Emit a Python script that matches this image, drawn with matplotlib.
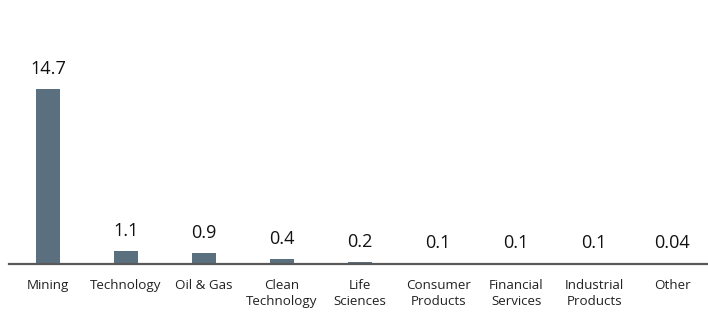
import matplotlib
matplotlib.use("Agg")
import matplotlib.pyplot as plt

# sectors and values
categories = ["Mining", "Technology", "Oil & Gas", "Clean\nTechnology", "Life\nSciences",
              "Consumer\nProducts", "Financial\nServices", "Industrial\nProducts", "Other"]
values = [14.7, 1.1, 0.9, 0.4, 0.2, 0.1, 0.1, 0.1, 0.04]
value_labels = ["14.7", "1.1", "0.9", "0.4", "0.2", "0.1", "0.1", "0.1", "0.04"]

plt.rcParams['font.family'] = ['Open Sans', 'DejaVu Sans']

fig = plt.figure(figsize=(7.08, 3.12), dpi=100)
ax = fig.add_axes([9 / 708, 48 / 312, 699 / 708, 264 / 312])

x = range(len(categories))
bars = ax.bar(x, values, width=0.31, color="#5b707f")

for xi, v, lab in zip(x, values, value_labels):
    ax.annotate(lab, (xi, v), xytext=(0, 8), textcoords="offset points",
                ha="center", va="bottom", fontsize=13, color="#111111")

ax.set_xlim(-0.5, 8.46)
ax.set_ylim(0, 22.18)
ax.set_xticks(list(x))
ax.set_xticklabels(categories, fontsize=9.6, color="#222222", linespacing=1.3, va="top")
ax.tick_params(axis="x", length=0, pad=11)
ax.set_yticks([])
for s in ["top", "right", "left"]:
    ax.spines[s].set_visible(False)
ax.spines["bottom"].set_color("#595959")
ax.spines["bottom"].set_linewidth(1.6)

fig.savefig("out.png", dpi=100)
